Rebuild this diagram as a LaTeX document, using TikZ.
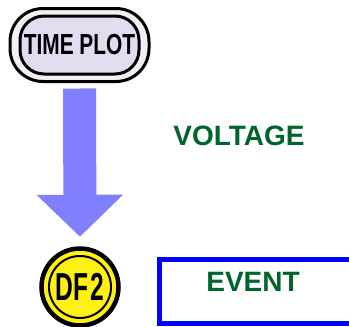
\documentclass[tikz,border=0pt]{standalone}
\usepackage{fontspec}
\usepackage{graphicx}
\setmainfont{Liberation Sans}
\usetikzlibrary{arrows.meta}
\definecolor{plotfill}{RGB}{228,220,238}
\definecolor{flowblue}{RGB}{128,128,255}
\definecolor{labelgreen}{RGB}{0,100,45}
\definecolor{dfyellow}{RGB}{255,240,20}
\definecolor{eventblue}{RGB}{0,0,255}
\tikzstyle{bouter}=[rectangle,rounded corners=33pt,draw=black,line width=3pt,fill=plotfill!45,minimum width=139pt,minimum height=73pt,inner sep=0pt]
\tikzstyle{binner}=[rectangle,rounded corners=24pt,draw=black,line width=3pt,fill=plotfill,minimum width=119pt,minimum height=58pt,inner sep=0pt,font=\fontsize{29}{30}\selectfont\bfseries]
\tikzstyle{dfcirc}=[circle,draw=black,line width=4.5pt,fill=dfyellow,minimum size=77pt,inner sep=0pt,font=\fontsize{39}{40}\selectfont\bfseries]
\tikzstyle{glabel}=[text=labelgreen,font=\fontsize{28}{30}\selectfont\bfseries]
\tikzstyle{flow}=[draw=flowblue,line width=33pt,-{Triangle[width=84pt,length=42pt]}]

\begin{document}
\begin{tikzpicture}[x=1pt,y=-1pt]
\useasboundingbox (0,0) rectangle (349,327);
\node[bouter] (T) at (79.5,45) {};
\node[binner] (P) at (T.center) {\scalebox{0.72}[1]{TIME PLOT}};
\node[dfcirc] (D) at (80,287) {};
\draw[line width=2pt] (D.center) circle (31pt);
\node[font=\fontsize{39}{40}\selectfont\bfseries] (L) at (D.center) {\scalebox{0.63}[1]{DF\hspace{3pt}2}};
\node[glabel] (V) at (239,136) {VOLTAGE};
\node[rectangle,draw=eventblue,line width=5pt,minimum width=210pt,minimum height=64pt,anchor=north west] (B) at (156.5,256.5) {};
\node[glabel] (E) at (253,282) {EVENT};
\draw[flow,shorten <=5.5pt,shorten >=9.5pt] (T.south) -- (D.north);
\end{tikzpicture}
\end{document}
